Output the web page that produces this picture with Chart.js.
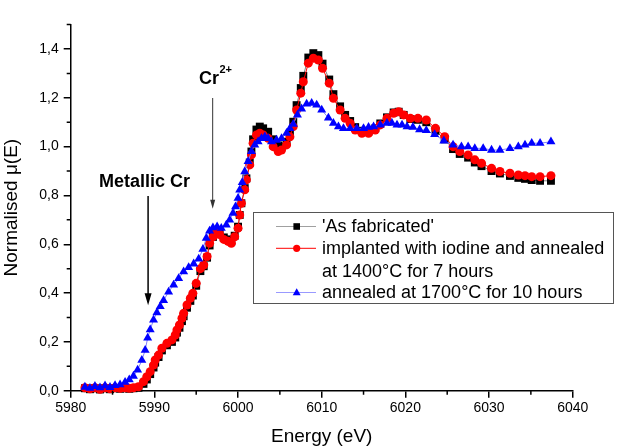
<!DOCTYPE html>
<html><head><meta charset="utf-8">
<script src="https://cdn.jsdelivr.net/npm/chart.js@4.4.1/dist/chart.umd.min.js"></script>
<style>html,body{margin:0;padding:0;background:#fff;}canvas{display:block;}</style>
</head><body>
<canvas id="c" width="621" height="448"></canvas>
<script>
// ---- data ----
const seriesNames = ["'As fabricated'", "implanted with iodine and annealed", "at 1400°C for 7 hours", "annealed at 1700°C for 10 hours"];

// energy grid shared by 'As fabricated' and implanted samples (eV)
const energyA = [5981.7,5982.3,5982.9,5983.5,5984.1,5984.7,5985.3,5985.9,5986.5,5987.0,5987.5,5988.1,5988.7,5989.1,5989.5,5989.9,5990.1,5990.5,5990.9,5991.5,5992.1,5992.5,5992.7,5993.0,5993.3,5993.5,5993.9,5994.3,5994.6,5995.0,5995.5,5995.9,5996.3,5996.6,5997.0,5997.4,5997.8,5998.3,5998.8,5999.2,5999.6,6000.0,6000.2,6000.4,6000.8,6001.0,6001.4,6001.6,6001.8,6002.2,6002.6,6003.0,6003.6,6004.2,6004.8,6005.2,6005.8,6006.2,6006.6,6007.0,6007.5,6007.8,6008.4,6009.0,6009.6,6010.1,6010.9,6011.4,6012.2,6012.8,6013.4,6014.0,6014.8,6015.6,6016.4,6017.0,6017.8,6018.6,6019.2,6019.8,6020.6,6021.5,6022.5,6023.6,6024.7,6025.7,6026.5,6027.5,6028.3,6029.1,6030.3,6031.3,6032.5,6033.5,6034.3,6035.1,6036.1,6037.4];

const asFabricated = [0.010,0.006,0.010,0.005,0.010,0.006,0.010,0.008,0.010,0.008,0.010,0.012,0.028,0.046,0.068,0.095,0.115,0.138,0.165,0.186,0.200,0.218,0.238,0.258,0.285,0.305,0.340,0.368,0.390,0.430,0.490,0.510,0.545,0.595,0.630,0.650,0.645,0.628,0.620,0.612,0.635,0.672,0.720,0.768,0.830,0.870,0.935,0.980,1.030,1.070,1.082,1.075,1.061,1.030,1.005,1.000,1.020,1.050,1.102,1.170,1.240,1.290,1.365,1.383,1.375,1.340,1.275,1.215,1.165,1.130,1.105,1.080,1.065,1.062,1.075,1.095,1.120,1.140,1.143,1.130,1.113,1.110,1.100,1.065,1.030,0.990,0.970,0.955,0.935,0.920,0.900,0.890,0.880,0.872,0.868,0.863,0.860,0.860];

const implanted = [0.012,0.008,0.012,0.006,0.012,0.008,0.012,0.010,0.012,0.010,0.012,0.016,0.037,0.057,0.078,0.105,0.126,0.146,0.174,0.194,0.208,0.228,0.249,0.269,0.297,0.317,0.351,0.379,0.399,0.440,0.500,0.515,0.550,0.604,0.630,0.645,0.640,0.620,0.612,0.604,0.631,0.666,0.720,0.768,0.823,0.864,0.925,0.966,1.014,1.048,1.055,1.048,1.034,1.000,0.980,0.986,1.007,1.040,1.082,1.150,1.219,1.266,1.342,1.362,1.355,1.321,1.260,1.198,1.150,1.116,1.096,1.068,1.055,1.055,1.068,1.089,1.116,1.137,1.143,1.130,1.116,1.116,1.109,1.075,1.041,1.000,0.980,0.966,0.946,0.932,0.911,0.898,0.891,0.884,0.881,0.877,0.877,0.881];

// energy grid of the 1700 °C annealed sample (eV)
const energyB = [5981.7,5982.3,5982.9,5983.5,5984.1,5984.7,5985.3,5985.9,5986.5,5987.0,5987.5,5988.0,5988.5,5988.9,5989.2,5989.5,5989.9,5990.3,5990.7,5991.1,5991.7,5992.3,5992.9,5993.5,5994.1,5994.7,5995.3,5995.8,5996.2,5996.6,5997.0,5997.5,5998.0,5998.6,5999.0,5999.4,5999.7,6000.0,6000.2,6000.5,6000.8,6001.2,6001.6,6002.0,6002.4,6002.8,6003.2,6003.6,6004.0,6004.6,6005.2,6005.8,6006.2,6006.6,6007.1,6007.6,6008.2,6008.8,6009.4,6010.0,6010.8,6011.4,6012.0,6012.6,6013.4,6014.2,6015.0,6015.6,6016.2,6017.0,6017.8,6018.4,6019.0,6019.6,6020.2,6020.9,6021.7,6022.5,6023.5,6024.6,6025.7,6026.7,6027.5,6028.3,6029.3,6030.3,6031.3,6032.5,6033.5,6034.3,6035.1,6036.1,6037.4];

const annealed = [0.015,0.010,0.018,0.012,0.020,0.014,0.022,0.025,0.035,0.045,0.060,0.085,0.125,0.166,0.216,0.250,0.290,0.320,0.345,0.370,0.405,0.433,0.460,0.488,0.505,0.520,0.540,0.580,0.625,0.655,0.668,0.672,0.666,0.679,0.700,0.727,0.754,0.789,0.823,0.853,0.898,0.939,0.980,1.007,1.020,1.034,1.041,1.034,1.020,1.027,1.034,1.055,1.075,1.092,1.130,1.155,1.175,1.178,1.171,1.150,1.118,1.096,1.082,1.075,1.075,1.075,1.075,1.080,1.082,1.089,1.096,1.096,1.089,1.089,1.082,1.080,1.070,1.066,1.050,1.024,1.007,1.000,1.000,0.993,0.993,0.986,0.986,0.993,1.000,1.007,1.014,1.014,1.020];

const xTickValues = [5980,5990,6000,6010,6020,6030,6040];
const yTickValues = [0,0.2,0.4,0.6,0.8,1.0,1.2,1.4];

// ---- helpers ----
const FONT = "'Liberation Sans', Arial, sans-serif";
const toPts = (xs, ys) => xs.map((x, i) => ({x: x, y: ys[i]}));
const fmtComma = v => v.toFixed(1).replace('.', ',');

function drawMarker(ctx, style, x, y, r, color) {
  ctx.fillStyle = color;
  ctx.beginPath();
  if (style === 'rect') {
    ctx.rect(x - r, y - r, 2 * r, 2 * r);
  } else if (style === 'circle') {
    ctx.arc(x, y, r, 0, Math.PI * 2);
  } else {
    ctx.moveTo(x, y - r * 1.15);
    ctx.lineTo(x + r * 1.1, y + r * 0.75);
    ctx.lineTo(x - r * 1.1, y + r * 0.75);
    ctx.closePath();
  }
  ctx.fill();
}

const minorTicks = {
  id: 'minorTicks',
  afterDraw(chart) {
    const ctx = chart.ctx, xs = chart.scales.x, ys = chart.scales.y;
    const a = chart.chartArea;
    ctx.save();
    ctx.strokeStyle = '#000';
    ctx.lineWidth = 1.5;
    ctx.beginPath();
    for (let v = 5985; v < 6040; v += 10) {
      const px = xs.getPixelForValue(v);
      ctx.moveTo(px, a.bottom); ctx.lineTo(px, a.bottom + 4);
    }
    for (let k = 1; k <= 15; k += 2) {
      const py = ys.getPixelForValue(k / 10);
      ctx.moveTo(a.left, py); ctx.lineTo(a.left - 4, py);
    }
    ctx.stroke();
    ctx.restore();
  }
};

const annotations = {
  id: 'annotations',
  afterDraw(chart) {
    const ctx = chart.ctx, xs = chart.scales.x, ys = chart.scales.y;
    ctx.save();
    ctx.fillStyle = '#000';
    ctx.textBaseline = 'alphabetic';
    ctx.font = 'bold 18px ' + FONT;
    ctx.fillText('Metallic Cr', 99, 187);
    ctx.fillText('Cr', 199, 83.5);
    ctx.font = 'bold 11px ' + FONT;
    ctx.fillText('2+', 219.5, 73);
    // arrow: metallic Cr
    const ax1 = xs.getPixelForValue(5989.25), tip1 = ys.getPixelForValue(0.35);
    ctx.strokeStyle = '#000'; ctx.lineWidth = 1.5;
    ctx.beginPath(); ctx.moveTo(ax1, 196); ctx.lineTo(ax1, tip1 - 8); ctx.stroke();
    ctx.beginPath(); ctx.moveTo(ax1, tip1); ctx.lineTo(ax1 - 3.5, tip1 - 12); ctx.lineTo(ax1 + 3.5, tip1 - 12); ctx.closePath(); ctx.fill();
    // arrow: Cr2+
    const ax2 = xs.getPixelForValue(5996.97), tip2 = ys.getPixelForValue(0.745);
    ctx.strokeStyle = '#333'; ctx.fillStyle = '#333'; ctx.lineWidth = 1;
    ctx.beginPath(); ctx.moveTo(ax2, 98); ctx.lineTo(ax2, tip2 - 5); ctx.stroke();
    ctx.beginPath(); ctx.moveTo(ax2, tip2); ctx.lineTo(ax2 - 2.5, tip2 - 9); ctx.lineTo(ax2 + 2.5, tip2 - 9); ctx.closePath(); ctx.fill();
    ctx.restore();
  }
};

const customLegend = {
  id: 'customLegend',
  afterDraw(chart) {
    const ctx = chart.ctx;
    ctx.save();
    ctx.fillStyle = '#fff';
    ctx.fillRect(253.5, 212.5, 360, 91);
    ctx.strokeStyle = '#555'; ctx.lineWidth = 1;
    ctx.strokeRect(253.5, 212.5, 360, 91);
    const rows = [
      {y: 226.5, line: '#a0a0a0', marker: 'rect', color: '#000', r: 3.3, text: seriesNames[0], base: 231.7},
      {y: 248.3, line: '#ff0000', marker: 'circle', color: '#ff0000', r: 3.6, text: seriesNames[1], base: 254.3},
      {y: null, text: seriesNames[2], base: 276.7},
      {y: 292.5, line: '#9999ff', marker: 'tri', color: '#0000ff', r: 3.6, text: seriesNames[3], base: 298.3}
    ];
    ctx.font = '18px ' + FONT;
    ctx.textBaseline = 'alphabetic';
    rows.forEach(r => {
      if (r.y !== null) {
        ctx.strokeStyle = r.line; ctx.lineWidth = 1;
        ctx.beginPath(); ctx.moveTo(276, r.y); ctx.lineTo(316, r.y); ctx.stroke();
        drawMarker(ctx, r.marker, 296.7, r.y, r.r, r.color);
      }
      ctx.fillStyle = '#000';
      ctx.fillText(r.text, 322, r.base);
    });
    ctx.restore();
  }
};

const axisCommon = {
  border: {display: true, color: '#000', width: 1.5},
  grid: {drawOnChartArea: false, drawTicks: true, tickLength: 7, color: '#000', lineWidth: 1.5}
};

new Chart(document.getElementById('c'), {
  type: 'scatter',
  data: {
    datasets: [
      {label: seriesNames[3], data: toPts(energyB, annealed), showLine: true, order: 0,
       borderColor: '#8080ff', borderWidth: 1, pointStyle: 'triangle', pointRadius: 5.2,
       pointBackgroundColor: '#0000ff', pointBorderColor: '#0000ff', pointBorderWidth: 0, clip: false},
      {label: seriesNames[1], data: toPts(energyA, implanted), showLine: true, order: 1,
       borderColor: '#ff0000', borderWidth: 1, pointStyle: 'circle', pointRadius: 4.5,
       pointBackgroundColor: '#ff0000', pointBorderColor: '#ff0000', pointBorderWidth: 0, clip: false},
      {label: seriesNames[0], data: toPts(energyA, asFabricated), showLine: true, order: 2,
       borderColor: '#808080', borderWidth: 1, pointStyle: 'rect', pointRadius: 5.6,
       pointBackgroundColor: '#000', pointBorderColor: '#000', pointBorderWidth: 0, clip: false}
    ]
  },
  options: {
    responsive: false,
    animation: false,
    devicePixelRatio: 1,
    layout: {padding: {left: 0, top: 24.6, right: 48.3, bottom: 0}},
    plugins: {legend: {display: false}, tooltip: {enabled: false}},
    scales: {
      x: Object.assign({}, axisCommon, {
        type: 'linear', min: 5980, max: 6040,
        afterBuildTicks: s => { s.ticks = xTickValues.map(v => ({value: v})); },
        afterFit: s => { s.height = 448 - 390.7; },
        ticks: {color: '#000', font: {family: FONT, size: 14}, padding: 2, maxRotation: 0, callback: v => String(v)},
        title: {display: true, text: 'Energy (eV)', color: '#000', font: {family: FONT, size: 19}, padding: {top: 4, bottom: 0}}
      }),
      y: Object.assign({}, axisCommon, {
        type: 'linear', min: 0, max: 1.5,
        afterBuildTicks: s => { s.ticks = yTickValues.map(v => ({value: v})); },
        afterFit: s => { s.width = 70.7; },
        ticks: {color: '#000', font: {family: FONT, size: 14}, padding: 5, callback: v => fmtComma(v)},
        title: {display: true, text: 'Normalised μ(E)', color: '#000', font: {family: FONT, size: 19}, padding: {top: 0, bottom: 2}}
      })
    }
  },
  plugins: [minorTicks, annotations, customLegend]
});
</script>
</body></html>
